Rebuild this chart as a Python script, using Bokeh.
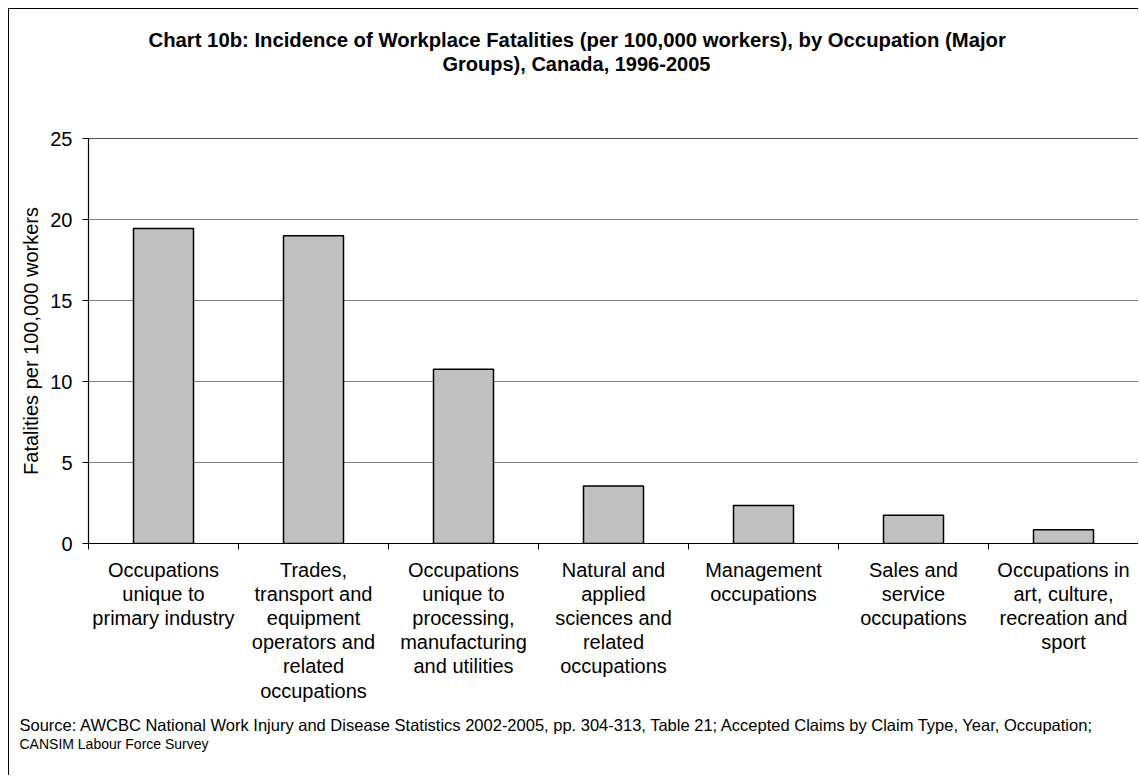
from bokeh.plotting import figure
from bokeh.models import Title, FixedTicker, Span, ColumnDataSource
from bokeh.embed import file_html
from bokeh.resources import INLINE

# ---- data ----
categories = [
    "Occupations\nunique to\nprimary industry",
    "Trades,\ntransport and\nequipment\noperators and\nrelated\noccupations",
    "Occupations\nunique to\nprocessing,\nmanufacturing\nand utilities",
    "Natural and\napplied\nsciences and\nrelated\noccupations",
    "Management\noccupations",
    "Sales and\nservice\noccupations",
    "Occupations in\nart, culture,\nrecreation and\nsport",
]
rates = [19.45, 19.0, 10.75, 3.55, 2.35, 1.75, 0.85]
y_ticks = [0, 5, 10, 15, 20, 25]

title_line1 = "Chart 10b: Incidence of Workplace Fatalities (per 100,000 workers), by Occupation (Major"
title_line2 = "Groups), Canada, 1996-2005"
y_label = "Fatalities per 100,000 workers"
source_line1 = ("Source: AWCBC National Work Injury and Disease Statistics 2002-2005, pp. 304-313, "
                "Table 21; Accepted Claims by Claim Type, Year, Occupation;")
source_line2 = "CANSIM Labour Force Survey"

FONT = "Liberation Sans"

n = len(categories)
centers = [i + 0.5 for i in range(n)]
boundaries = [i for i in range(n + 1)]

src = ColumnDataSource(dict(x=centers, rate=rates, cat=categories))

p = figure(width=1130, height=767, x_range=(0, n), y_range=(0, 25),
           output_backend="svg", toolbar_location=None, title=None,
           min_border_left=79, min_border_right=1, min_border_top=129,
           min_border_bottom=233,
           styles={"border-left": "1px solid #000", "border-top": "1px solid #000",
                   "margin-left": "8px", "margin-top": "8px"})
p.outline_line_color = "#808080"
p.background_fill_color = "white"
p.border_fill_color = "white"

p.vbar(x="x", top="rate", width=0.4, source=src, fill_color="#C0C0C0",
       line_color="black", line_width=1.5)

p.add_layout(Span(location=25, dimension="width", line_color="#222222", line_width=1.2))

# x axis
xa = p.xaxis[0]
xa.ticker = FixedTicker(ticks=centers, minor_ticks=boundaries)
xa.major_label_overrides = {c: lab for c, lab in zip(centers, categories)}
xa.major_tick_line_color = None
xa.minor_tick_in = 0
xa.minor_tick_out = 6
xa.minor_tick_line_color = "black"
xa.axis_line_color = "black"
xa.axis_line_width = 1.2
xa.major_label_text_font = FONT
xa.major_label_text_font_size = "20px"
xa.major_label_text_color = "black"
xa.major_label_text_line_height = 1.1
xa.major_label_standoff = 9
p.xgrid.visible = False

# y axis
ya = p.yaxis[0]
ya.ticker = FixedTicker(ticks=y_ticks)
ya.major_tick_in = 0
ya.major_tick_out = 6
ya.minor_tick_line_color = None
ya.axis_line_color = "black"
ya.axis_line_width = 1.2
ya.major_label_text_font = FONT
ya.major_label_text_font_size = "20px"
ya.major_label_text_color = "black"
ya.major_label_standoff = 10
ya.axis_label = y_label
ya.axis_label_text_font = FONT
ya.axis_label_text_font_size = "20px"
ya.axis_label_text_font_style = "normal"
ya.axis_label_text_color = "black"
ya.axis_label_standoff = 5
p.ygrid.grid_line_color = "#808080"

# titles (later additions go farther from the plot)
spacer_top = Title(text=" ", text_font=FONT, text_font_size="20px", standoff=40)
t2 = Title(text=title_line2, align="left", offset=354, text_font=FONT,
           text_font_size="20px", text_font_style="bold", text_color="black", standoff=0)
t1 = Title(text=title_line1, align="left", offset=60, text_font=FONT,
           text_font_size="20.3px", text_font_style="bold", text_color="black", standoff=0)
p.add_layout(spacer_top, "above")
p.add_layout(t2, "above")
p.add_layout(t1, "above")

spacer_bot = Title(text=" ", text_font=FONT, text_font_size="5px", standoff=1)
s1 = Title(text=source_line1, align="left", offset=-69, text_font=FONT,
           text_font_size="16.5px", text_font_style="normal", text_color="black", standoff=0)
s2 = Title(text=source_line2, align="left", offset=-69, text_font=FONT,
           text_font_size="14px", text_font_style="normal", text_color="black", standoff=0)
p.add_layout(spacer_bot, "below")
p.add_layout(s1, "below")
p.add_layout(s2, "below")

open("out.html", "w").write(file_html(p, INLINE))
